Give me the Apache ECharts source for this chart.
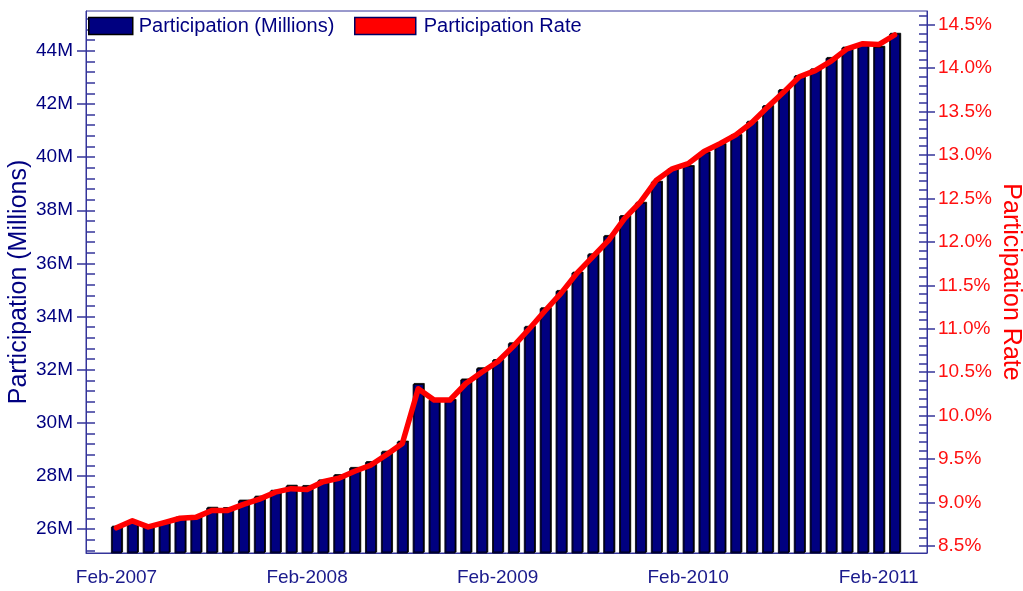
<!DOCTYPE html>
<html>
<head>
<meta charset="utf-8">
<script src="https://cdn.jsdelivr.net/npm/echarts@6/dist/echarts.min.js"></script>
<style>
html,body{margin:0;padding:0;background:#fff;}
#chart{width:1023px;height:591px;}
</style>
</head>
<body>
<div id="chart"></div>
<script>
// Monthly categories (one bar per month)
var months = [
  'Feb-2007','Mar-2007','Apr-2007','May-2007','Jun-2007','Jul-2007','Aug-2007','Sep-2007','Oct-2007','Nov-2007','Dec-2007','Jan-2008',
  'Feb-2008','Mar-2008','Apr-2008','May-2008','Jun-2008','Jul-2008','Aug-2008','Sep-2008','Oct-2008','Nov-2008','Dec-2008','Jan-2009',
  'Feb-2009','Mar-2009','Apr-2009','May-2009','Jun-2009','Jul-2009','Aug-2009','Sep-2009','Oct-2009','Nov-2009','Dec-2009','Jan-2010',
  'Feb-2010','Mar-2010','Apr-2010','May-2010','Jun-2010','Jul-2010','Aug-2010','Sep-2010','Oct-2010','Nov-2010','Dec-2010','Jan-2011',
  'Feb-2011','Mar-2011'
];
// Participation (millions)
var participation = [
  26.09,26.26,26.09,26.24,26.43,26.47,26.80,26.79,27.07,27.22,27.44,27.63,
  27.62,27.83,28.03,28.30,28.52,28.91,29.29,31.46,30.86,30.86,31.63,32.05,
  32.36,32.99,33.61,34.31,34.96,35.65,36.34,37.03,37.78,38.28,39.07,39.54,
  39.66,40.17,40.49,40.83,41.33,41.92,42.52,43.05,43.30,43.73,44.12,44.25,
  44.15,44.64
];
// Participation rate (%)
var rate = [
  8.71,8.79,8.72,8.77,8.82,8.83,8.91,8.91,8.98,9.04,9.12,9.16,
  9.15,9.24,9.28,9.36,9.43,9.55,9.68,10.31,10.18,10.18,10.37,10.50,
  10.62,10.80,11.00,11.21,11.41,11.64,11.83,12.02,12.27,12.46,12.71,12.84,
  12.90,13.04,13.13,13.23,13.37,13.55,13.72,13.90,13.97,14.08,14.22,14.28,
  14.27,14.38
];
// Axis tick labels
var xTickIndex = [0, 12, 24, 36, 48];
var leftTicks = [26, 28, 30, 32, 34, 36, 38, 40, 42, 44];
var rightTicks = [8.5, 9.0, 9.5, 10.0, 10.5, 11.0, 11.5, 12.0, 12.5, 13.0, 13.5, 14.0, 14.5];

var LMIN = 25.1, LMAX = 45.5, RMIN = 8.42, RMAX = 14.656;
var leftMinor = [];
for (var v = 25.2; v < LMAX; v += 0.4) leftMinor.push(+v.toFixed(2));
var rightMinor = [];
for (var w = 8.5; w < RMAX; w += 0.1) rightMinor.push(+w.toFixed(2));

var AXC = '#34349a';
var FONT = 'Liberation Sans, Arial, sans-serif';
var NAVY = '#000080';

var barData = participation.map(function (p, i) { return [i, p]; });
var lineData = rate.map(function (r, i) { return [i, r]; });

var chart = echarts.init(document.getElementById('chart'), null, {renderer: 'canvas'});
chart.setOption({
  animation: false,
  backgroundColor: '#fff',
  textStyle: {fontFamily: FONT},
  grid: {left: 86, right: 96, top: 11, bottom: 38, show: true, borderColor: AXC, borderWidth: 1,
    backgroundColor: '#fff', containLabel: false, outerBoundsMode: 'none'},
  legend: [
    {
      data: ['Participation (Millions)'], left: 88, top: 16, padding: 0, icon: 'rect',
      itemWidth: 44, itemHeight: 17, itemGap: 6,
      itemStyle: {color: NAVY, borderColor: '#000', borderWidth: 1.5},
      textStyle: {fontSize: 20, color: NAVY, fontFamily: FONT, padding: [0, 0, 0, 1]}
    },
    {
      data: ['Participation Rate'], left: 354, top: 16, padding: 0, icon: 'rect',
      itemWidth: 61, itemHeight: 17,
      itemStyle: {color: '#ff0000', borderColor: '#000060', borderWidth: 1.5},
      textStyle: {fontSize: 20, color: NAVY, fontFamily: FONT, padding: [0, 0, 0, 3]}
    }
  ],
  xAxis: {
    type: 'value', min: -1.92, max: 51.04,
    splitLine: {show: false},
    axisLine: {show: true, onZero: false, lineStyle: {color: AXC, width: 1}},
    axisTick: {show: false},
    axisLabel: {
      customValues: xTickIndex, margin: 15, fontSize: 19, color: '#1a1a8c', fontFamily: FONT,
      formatter: function (val) { return months[Math.round(val)]; }
    }
  },
  yAxis: [
    {
      type: 'value', position: 'left', min: LMIN, max: LMAX,
      name: 'Participation (Millions)', nameLocation: 'middle', nameGap: 54, nameMoveOverlap: false,
      nameTextStyle: {fontSize: 25, color: NAVY, fontFamily: FONT},
      splitLine: {show: false},
      axisLine: {show: true, onZero: false, lineStyle: {color: AXC, width: 1}},
      axisTick: {show: true, inside: false, length: 9, customValues: leftTicks, lineStyle: {color: AXC, width: 1.5}},
      axisLabel: {customValues: leftTicks, margin: 13, fontSize: 19, color: NAVY, fontFamily: FONT,
        formatter: function (val) { return Math.round(val) + 'M'; }}
    },
    {
      type: 'value', position: 'left', min: LMIN, max: LMAX,
      splitLine: {show: false},
      axisLine: {show: false, onZero: false},
      axisTick: {show: true, inside: true, length: 9, customValues: leftMinor, lineStyle: {color: AXC, width: 1.5}},
      axisLabel: {show: false}
    },
    {
      type: 'value', position: 'right', min: RMIN, max: RMAX,
      name: 'Participation Rate', nameLocation: 'middle', nameGap: 71, nameRotate: -90, nameMoveOverlap: false,
      nameTextStyle: {fontSize: 25, color: '#ff0000', fontFamily: FONT},
      splitLine: {show: false},
      axisLine: {show: true, onZero: false, lineStyle: {color: AXC, width: 1}},
      axisTick: {show: true, inside: false, length: 8, customValues: rightTicks, lineStyle: {color: AXC, width: 1.5}},
      axisLabel: {customValues: rightTicks, margin: 11, fontSize: 19, color: '#ff1010', fontFamily: FONT,
        formatter: function (val) { return val.toFixed(1) + '%'; }}
    },
    {
      type: 'value', position: 'right', min: RMIN, max: RMAX,
      splitLine: {show: false},
      axisLine: {show: false, onZero: false},
      axisTick: {show: true, inside: true, length: 8, customValues: rightMinor, lineStyle: {color: AXC, width: 1.5}},
      axisLabel: {show: false}
    }
  ],
  series: [
    {
      name: 'Participation (Millions)', type: 'bar', yAxisIndex: 0, data: barData,
      barWidth: 11,
      itemStyle: {color: NAVY, borderColor: '#000', borderWidth: 0.8,
        shadowColor: '#000', shadowOffsetX: 1, shadowOffsetY: -1, shadowBlur: 0},
      z: 2
    },
    {
      name: 'Participation Rate', type: 'line', yAxisIndex: 2, data: lineData,
      showSymbol: false, symbol: 'none',
      lineStyle: {color: '#ff0000', width: 5.5, cap: 'round', join: 'round'},
      itemStyle: {color: '#ff0000'},
      z: 3
    }
  ]
});
</script>
</body>
</html>
